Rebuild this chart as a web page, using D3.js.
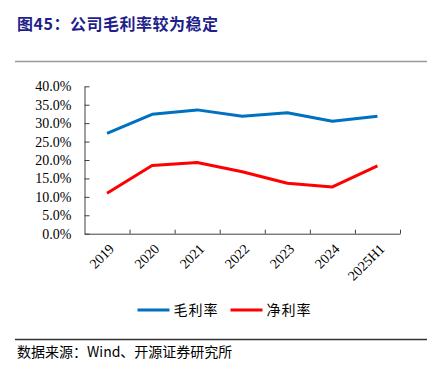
<!DOCTYPE html>
<html>
<head>
<meta charset="utf-8">
<script src="https://cdn.jsdelivr.net/npm/d3@7"></script>
<style>
  body { margin: 0; background: #fff; }
  svg { display: block; }
</style>
</head>
<body>
<div id="chart"></div>
<script>
// data
const categories = ["2019", "2020", "2021", "2022", "2023", "2024", "2025H1"];
const grossMargin = [27.2, 32.4, 33.6, 31.9, 32.8, 30.5, 31.9];
const netMargin = [11.0, 18.5, 19.3, 16.8, 13.7, 12.7, 18.4];
const yTicks = [0, 5, 10, 15, 20, 25, 30, 35, 40];
const seriesNames = ["毛利率", "净利率"];

const width = 438, height = 378;
const cjk = "'Noto Sans CJK SC', 'Noto Sans', sans-serif";
const serif = "'Liberation Serif', 'Times New Roman', serif";

const svg = d3.select("#chart").append("svg")
    .attr("width", width)
    .attr("height", height);

// title
svg.append("text")
    .attr("x", 17)
    .attr("y", 30)
    .attr("fill", "#1f1f8c")
    .attr("font-family", cjk)
    .attr("font-weight", "bold")
    .attr("font-size", 16)
    .attr("letter-spacing", 0.5)
    .text("图45：公司毛利率较为稳定");

// rule under the title
svg.append("line")
    .attr("x1", 15).attr("x2", 427)
    .attr("y1", 61.5).attr("y2", 61.5)
    .attr("stroke", "#999")
    .attr("stroke-width", 1.5);

const plotLeft = 84.5, plotRight = 400, plotTop = 86.3, plotBottom = 233.7;

const x = d3.scaleBand().domain(categories).range([plotLeft, plotRight]);
const xEdge = d3.scaleLinear().domain([0, categories.length]).range([plotLeft, plotRight]);
const y = d3.scaleLinear().domain([0, 40]).range([plotBottom, plotTop]);

const axisColor = "#404040";

// y axis
const yAxis = svg.append("g")
    .attr("transform", "translate(" + plotLeft + ",0)")
    .call(d3.axisLeft(y)
        .tickValues(yTicks)
        .tickSizeInner(-5)
        .tickSizeOuter(0)
        .tickPadding(13)
        .tickFormat(d => d.toFixed(1) + "%"));
yAxis.select(".domain").attr("stroke", axisColor);
yAxis.selectAll(".tick line").attr("stroke", axisColor);
yAxis.selectAll("text")
    .attr("font-family", serif)
    .attr("font-size", 14)
    .attr("fill", "#000");

// x axis: ticks on category boundaries
const xAxis = svg.append("g")
    .attr("transform", "translate(0," + plotBottom + ")")
    .call(d3.axisBottom(xEdge)
        .tickValues(d3.range(1, categories.length + 1))
        .tickSizeInner(-4)
        .tickSizeOuter(0)
        .tickFormat(""));
xAxis.select(".domain").attr("stroke", axisColor);
xAxis.selectAll(".tick line").attr("stroke", axisColor);

// rotated category labels
svg.append("g").selectAll("text")
    .data(categories)
    .join("text")
    .attr("transform", d => "translate(" + (x(d) + x.bandwidth() / 2 + 8) + "," + (plotBottom + 16) + ")rotate(-45)")
    .attr("text-anchor", "end")
    .attr("font-family", serif)
    .attr("font-size", 14)
    .attr("fill", "#000")
    .text(d => d);

// lines
const line = d3.line()
    .x((d, i) => x(categories[i]) + x.bandwidth() / 2)
    .y(d => y(d));

const colors = ["#0070c0", "#ff0000"];
[grossMargin, netMargin].forEach((s, k) => {
    svg.append("path")
        .datum(s)
        .attr("d", line)
        .attr("fill", "none")
        .attr("stroke", colors[k])
        .attr("stroke-width", 3)
        .attr("stroke-linejoin", "round");
});

// legend
const legendX = [137.5, 230.5];
seriesNames.forEach((n, k) => {
    const g = svg.append("g").attr("transform", "translate(" + legendX[k] + ",310)");
    g.append("line")
        .attr("x1", 0).attr("x2", 32)
        .attr("stroke", colors[k])
        .attr("stroke-width", 3);
    g.append("text")
        .attr("x", 36)
        .attr("y", 5)
        .attr("font-family", cjk)
        .attr("font-size", 14)
        .attr("letter-spacing", 1)
        .attr("fill", "#000")
        .text(n);
});

// source rule and note
svg.append("line")
    .attr("x1", 15).attr("x2", 427)
    .attr("y1", 339.5).attr("y2", 339.5)
    .attr("stroke", "#333")
    .attr("stroke-width", 1.5);

svg.append("text")
    .attr("x", 17)
    .attr("y", 357)
    .attr("font-family", cjk)
    .attr("font-size", 14)
    .attr("fill", "#000")
    .text("数据来源：Wind、开源证券研究所");
</script>
</body>
</html>
